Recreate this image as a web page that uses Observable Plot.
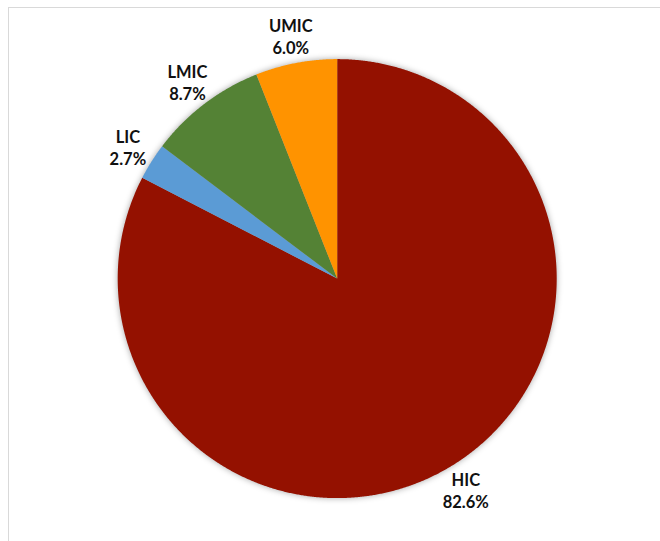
<!DOCTYPE html>
<html>
<head>
<meta charset="utf-8">
<script src="https://cdn.jsdelivr.net/npm/d3@7"></script>
<script src="https://cdn.jsdelivr.net/npm/@observablehq/plot@0.6"></script>
<style>
  html, body { margin: 0; padding: 0; background: #fff; }
  #wrap { position: relative; width: 660px; height: 541px; overflow: hidden; }
  #frame { position: absolute; left: 8px; top: 7px; width: 700px; height: 600px;
           border-left: 1.5px solid #d9d9d9; border-top: 1.5px solid #d9d9d9; pointer-events: none; }
  #wrap svg g[aria-label="line"] { filter: drop-shadow(0 0 3px rgba(0,0,0,0.35)); }
</style>
</head>
<body>
<div id="wrap"><div id="chart"></div><div id="frame"></div></div>
<script>
// Data (clockwise from 12 o'clock)
const categories = ["HIC", "LIC", "LMIC", "UMIC"];
const shares = [82.6, 2.7, 8.7, 6.0];
const colors = ["#941100", "#5b9bd5", "#548235", "#ff9300"];

const W = 660, H = 541;
const cx = 336.7, cy = 278.1, R = 219.5;

const total = d3.sum(shares);
const pie = d3.pie().sort(null).value(d => d.value)(categories.map((c, i) => ({name: c, value: shares[i]})));

// polygon points for each slice in unit-circle coordinates (angle clockwise from top)
const slicePts = [];
pie.forEach(p => {
  slicePts.push({name: p.data.name, x: 0, y: 0});
  const n = Math.max(2, Math.ceil((p.endAngle - p.startAngle) / 0.005));
  for (let k = 0; k <= n; k++) {
    const a = p.startAngle + (p.endAngle - p.startAngle) * k / n;
    slicePts.push({name: p.data.name, x: Math.sin(a), y: Math.cos(a)});
  }
  slicePts.push({name: p.data.name, x: 0, y: 0});
});

const labelR = 1.127;
const labels = pie.map(p => {
  const a = (p.startAngle + p.endAngle) / 2;
  return {name: p.data.name, text: `${p.data.name}\n${(p.data.value / total * 100).toFixed(1)}%`,
          x: labelR * Math.sin(a), y: labelR * Math.cos(a)};
});

const chart = Plot.plot({
  width: W, height: H,
  marginTop: 0, marginRight: 0, marginBottom: 0, marginLeft: 0,
  x: {domain: [-cx / R, (W - cx) / R], axis: null},
  y: {domain: [-(H - cy) / R, cy / R], axis: null},
  color: {domain: categories, range: colors},
  style: {background: "white", fontFamily: "Lato, 'Open Sans', sans-serif"},
  marks: [
    Plot.line(slicePts, {x: "x", y: "y", z: "name", fill: "name", stroke: "none"}),
    Plot.text(labels, {x: "x", y: "y", text: "text", fontSize: 16.5, fontWeight: "bold",
                       fill: "#111", lineHeight: 1.35, textAnchor: "middle", lineAnchor: "middle"})
  ]
});
document.getElementById("chart").appendChild(chart);
</script>
</body>
</html>
